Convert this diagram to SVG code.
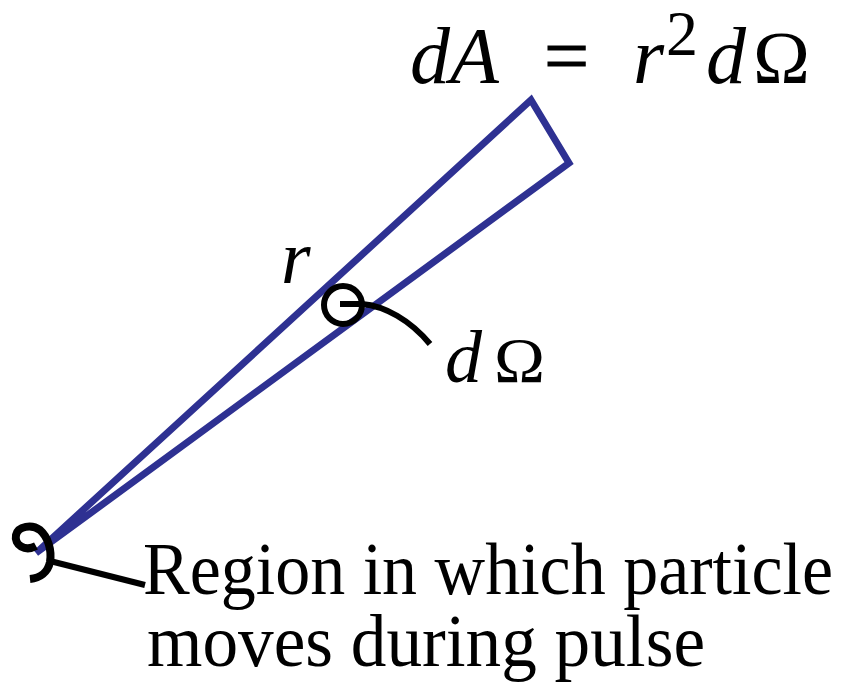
<svg xmlns="http://www.w3.org/2000/svg" width="843" height="688" viewBox="0 0 843 688">
<style>
.blue{fill:none;stroke:#2E3192;stroke-width:7;stroke-linejoin:miter;stroke-linecap:butt}
.ink{fill:none;stroke:#000;stroke-width:6;stroke-linecap:butt}
.hook{fill:none;stroke:#000;stroke-width:8;stroke-linecap:butt}
.t{font-family:"Liberation Serif","Times New Roman",serif;fill:#000}
.i{font-style:italic}
</style>
<rect width="843" height="688" fill="#fff"/>
<g id="cone">
<polyline class="blue" points="36,553 531,100 569,163 36,553"/>
</g>
<g id="connectors">
<path class="hook" d="M 36 546 C 25 552, 14 545, 16 535 C 18 526, 32 524, 40 530 C 48 537, 52 550, 50 562 C 48 572, 40 578, 30 579"/>
<path class="ink" d="M 50 561 L 145 585"/>
<circle class="ink" cx="343" cy="305" r="19"/>
<path class="ink" d="M 340 304 L 362 304 C 385 306, 410 320, 430 344"/>
</g>
<g id="formula">
<text class="t" font-size="80" y="83"><tspan class="i" x="410">dA</tspan><tspan x="544" stroke="#000" stroke-width="1">=</tspan><tspan class="i" x="633">r</tspan><tspan x="666" y="55" font-size="64">2</tspan><tspan class="i" x="706" y="83">d</tspan></text>
<text class="t" font-size="73" x="753" y="83" textLength="57" lengthAdjust="spacingAndGlyphs">Ω</text>
</g>
<g id="label-r">
<text class="t i" font-size="76" x="281" y="283">r</text>
</g>
<g id="label-dOmega">
<text class="t i" font-size="74" x="445" y="382">d</text>
<text class="t" font-size="64" x="494" y="382" textLength="51" lengthAdjust="spacingAndGlyphs">Ω</text>
</g>
<g id="label-region">
<text class="t" font-size="74" x="143" y="594" textLength="690" lengthAdjust="spacingAndGlyphs">Region in which particle</text>
<text class="t" font-size="74" x="147" y="666" textLength="558" lengthAdjust="spacingAndGlyphs">moves during pulse</text>
</g>
</svg>
